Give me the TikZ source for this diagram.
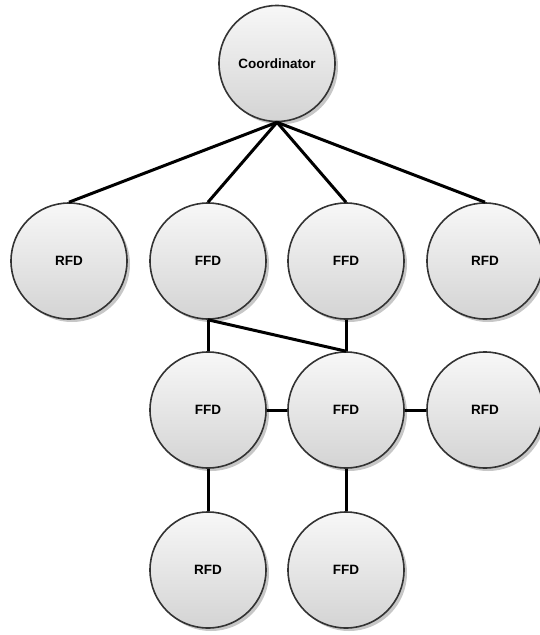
\documentclass[tikz,border=0pt]{standalone}
\usepackage{fontspec}
\setmainfont{Liberation Sans}
\usetikzlibrary{shadows}
\begin{document}
\begin{tikzpicture}[x=1pt,y=-1pt,
  dev/.style={circle, minimum size=116pt, inner sep=0pt, draw=black!80, line width=1.6pt,
    top color=black!3, bottom color=black!17,
    drop shadow={shadow xshift=3pt, shadow yshift=-3pt, fill=black!22, opacity=1},
    font=\fontsize{13.5}{16}\selectfont\bfseries},
  link/.style={line width=3pt, black}]
\useasboundingbox (0,0) rectangle (539,635);
\node[dev] (coord) at (277,63.5) {Coordinator};
\node[dev] (r1) at (69,261) {RFD};
\node[dev] (f1) at (208,261) {FFD};
\node[dev] (f2) at (346,261) {FFD};
\node[dev] (r2) at (485,261) {RFD};
\node[dev] (f3) at (208,410) {FFD};
\node[dev] (f4) at (346,410) {FFD};
\node[dev] (r3) at (485,410) {RFD};
\node[dev] (r4) at (208,570) {RFD};
\node[dev] (f5) at (346,570) {FFD};
\draw[link] (coord.south) -- (r1.north);
\draw[link] (coord.south) -- (f1.north);
\draw[link] (coord.south) -- (f2.north);
\draw[link] (coord.south) -- (r2.north);
\draw[link] (f1.south) -- (f3.north);
\draw[link] (f1.south) -- (f4.north);
\draw[link] (f2.south) -- (f4.north);
\draw[link] (f3.east) -- (f4.west);
\draw[link] (f4.east) -- (r3.west);
\draw[link] (f3.south) -- (r4.north);
\draw[link] (f4.south) -- (f5.north);
\end{tikzpicture}
\end{document}
